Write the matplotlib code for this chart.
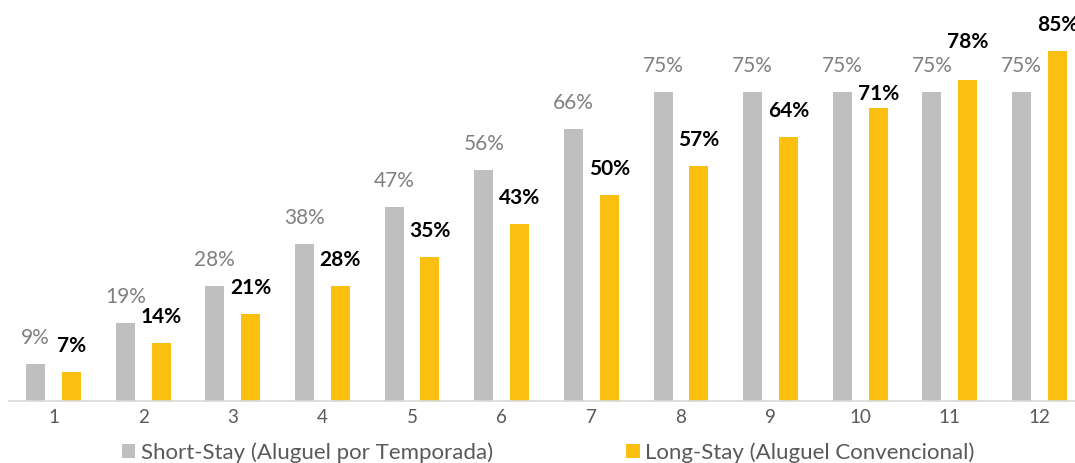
import matplotlib.pyplot as plt
from matplotlib.patches import Patch
import numpy as np

months = [1, 2, 3, 4, 5, 6, 7, 8, 9, 10, 11, 12]
short_stay = [9, 19, 28, 38, 47, 56, 66, 75, 75, 75, 75, 75]
long_stay = [7, 14, 21, 28, 35, 43, 50, 57, 64, 71, 78, 85]
series_names = ["Short-Stay (Aluguel por Temporada)", "Long-Stay (Aluguel Convencional)"]

gray = "#BFBFBF"
yellow = "#FBBF0F"
text_gray = "#595959"
font = ["Lato", "DejaVu Sans"]

W, H = 1075, 463
fig = plt.figure(figsize=(W / 100, H / 100), dpi=100)
# axis spans one half-category beyond each end, a bit past the right edge
ax = fig.add_axes([8.7 / W, (H - 401) / H, 1075.6 / W, 401 / H])

x = np.arange(len(months))
width = 0.212
offset = 0.2
ax.bar(x - offset, short_stay, width, color=gray)
ax.bar(x + offset, long_stay, width, color=yellow)

# label height above the bar top, in points; two yellow labels are nudged
# so they don't collide with the neighbouring 75% labels
label_gap = 18.7
yellow_gap = {9: 10.4, 10: 27.0}

for xi, v in zip(x, short_stay):
    ax.annotate(f"{v}%", (xi - offset, v), xytext=(0, label_gap),
                textcoords="offset points", ha="center", va="center",
                fontsize=15, color="#808080", family=font)
for i, (xi, v) in enumerate(zip(x, long_stay)):
    ax.annotate(f"{v}%", (xi + offset, v), xytext=(0, yellow_gap.get(i, label_gap)),
                textcoords="offset points", ha="center", va="center",
                fontsize=15, color="black", fontweight="bold", family=font,
                annotation_clip=False)

ax.set_xlim(-0.5, len(months) - 0.5)
ax.set_ylim(0, 97.3)
ax.set_xticks(x)
ax.set_xticklabels([str(m) for m in months], family=font, fontsize=13.5, color=text_gray)
ax.tick_params(axis="x", length=0, pad=6)
ax.set_yticks([])
for side in ["left", "right", "top"]:
    ax.spines[side].set_visible(False)
ax.spines["bottom"].set_color("#D9D9D9")
ax.spines["bottom"].set_linewidth(1.2)

handles = [Patch(facecolor=gray), Patch(facecolor=yellow)]
fig.legend(handles, series_names, loc="center", bbox_to_anchor=(0.51, 0.022),
           ncol=2, frameon=False, handlelength=0.6, handleheight=0.6,
           handletextpad=0.25, columnspacing=6.0, borderpad=0,
           prop={"family": font, "size": 16}, labelcolor=text_gray)

fig.savefig("out.png", dpi=100)
